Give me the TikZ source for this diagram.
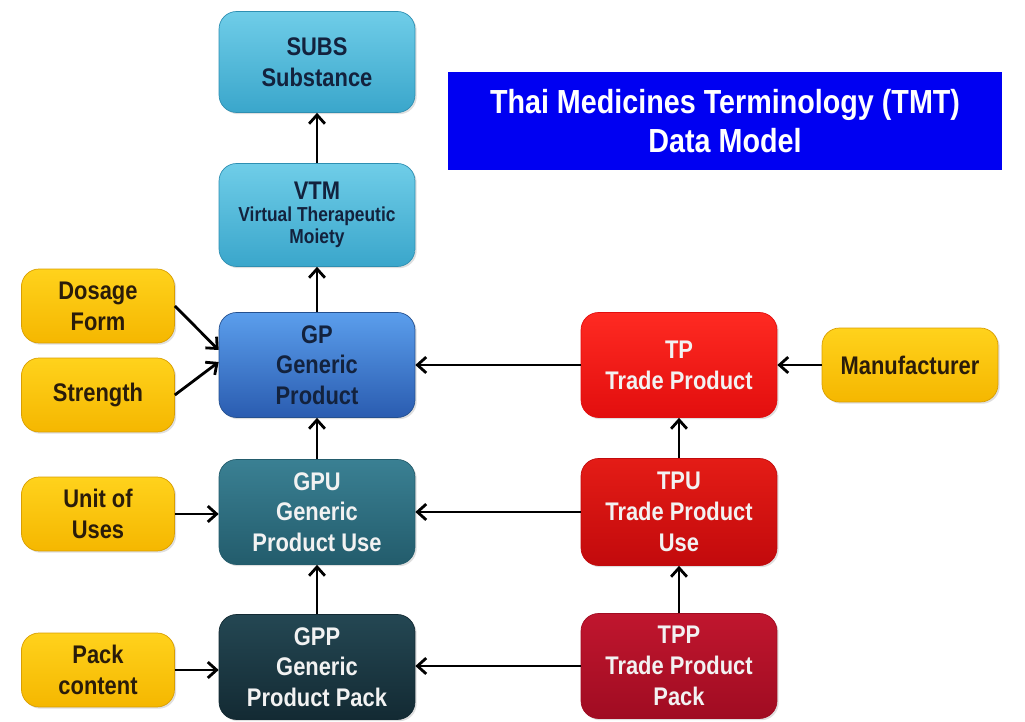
\documentclass[tikz,border=0pt]{standalone}
\usepackage{fontspec}
\usepackage{tikz}
\usetikzlibrary{arrows.meta, shadows}
\newfontfamily\condsans{Liberation Sans}[FakeStretch=0.86]
\definecolor{SkyTop}{HTML}{6FCDE8}
\definecolor{SkyBot}{HTML}{3AA6CB}
\definecolor{SkyEdge}{HTML}{2E8FB2}
\definecolor{GPTop}{HTML}{5B9EEC}
\definecolor{GPBot}{HTML}{2A5CB0}
\definecolor{GPEdge}{HTML}{24508F}
\definecolor{TealTop}{HTML}{3A8093}
\definecolor{TealBot}{HTML}{235C6C}
\definecolor{DeepTop}{HTML}{244753}
\definecolor{DeepBot}{HTML}{132A33}
\definecolor{GoldTop}{HTML}{FFD21C}
\definecolor{GoldBot}{HTML}{F5B700}
\definecolor{GoldEdge}{HTML}{D99E00}
\definecolor{TPTop}{HTML}{FF2A22}
\definecolor{TPBot}{HTML}{E20E0E}
\definecolor{TPUTop}{HTML}{E41C16}
\definecolor{TPUBot}{HTML}{C20A0C}
\definecolor{TPPTop}{HTML}{C0162E}
\definecolor{TPPBot}{HTML}{A00C22}
\definecolor{Navy}{HTML}{13223D}
\definecolor{InkBrown}{HTML}{2A1C0A}
\definecolor{Paper}{HTML}{F2F2F2}
\definecolor{TitleBlue}{HTML}{0000F2}
\tikzset{
    concept/.style={rectangle, rounded corners=10pt, minimum width=3.92cm,
        minimum height=2.1cm, inner sep=1pt, align=center,
        font=\condsans\fontsize{14.5}{17.5}\bfseries\selectfont,
        drop shadow={opacity=0.25, shadow xshift=1pt, shadow yshift=-1pt}},
    attr/.style={concept, minimum width=3.06cm, minimum height=1.48cm,
        top color=GoldTop, bottom color=GoldBot, draw=GoldEdge, text=InkBrown},
    link/.style={-{Straight Barb[length=5pt, width=9pt]}, line width=1.6pt},
}

\begin{document}
\begin{tikzpicture}[x=0.02cm, y=-0.02cm]
    \useasboundingbox (0,0) rectangle (1025,722);

    % Generic side
    \node[concept, minimum height=2.02cm, top color=SkyTop, bottom color=SkyBot,
          draw=SkyEdge, text=Navy] (subs) at (317,62) {SUBS\\Substance};
    \node[concept, minimum height=2.06cm, top color=SkyTop, bottom color=SkyBot,
          draw=SkyEdge, text=Navy,
          font=\condsans\fontsize{11.5}{12.5}\bfseries\selectfont] (vtm) at (317,215)
          {{\fontsize{14.5}{16}\selectfont VTM}\\Virtual Therapeutic\\Moiety};
    \node[concept, top color=GPTop, bottom color=GPBot, draw=GPEdge, text=Navy]
          (gp) at (317,365) {GP\\Generic\\Product};
    \node[concept, top color=TealTop, bottom color=TealBot, draw=TealBot, text=Paper]
          (gpu) at (317,512) {GPU\\Generic\\Product Use};
    \node[concept, top color=DeepTop, bottom color=DeepBot, draw=DeepBot, text=Paper]
          (gpp) at (317,667) {GPP\\Generic\\Product Pack};

    % Trade side
    \node[concept, top color=TPTop, bottom color=TPBot, draw=TPBot, text=Paper]
          (tp) at (679,365) {TP\\Trade Product};
    \node[concept, minimum height=2.14cm, top color=TPUTop, bottom color=TPUBot,
          draw=TPUBot, text=Paper] (tpu) at (679,512) {TPU\\Trade Product\\Use};
    \node[concept, top color=TPPTop, bottom color=TPPBot, draw=TPPBot, text=Paper]
          (tpp) at (679,666) {TPP\\Trade Product\\Pack};

    % Attribute boxes
    \foreach \name/\y/\label in {dose/306/{Dosage\\Form}, strength/395/Strength,
                                 unit/514/{Unit of\\Uses}, pack/670/{Pack\\content}} {
        \node[attr] (\name) at (98,\y) {\label};
    }
    \node[attr, minimum width=3.52cm] (maker) at (910,365) {Manufacturer};

    % Title
    \node[rectangle, fill=TitleBlue, minimum width=11.08cm, minimum height=1.96cm,
          text=white, align=center,
          font=\condsans\fontsize{19}{22}\bfseries\selectfont] (title) at (725,121)
          {Thai Medicines Terminology (TMT)\\Data Model};

    % Connectors
    \foreach \from/\to in {vtm/subs, gp/vtm, gpu/gp, gpp/gpu, tpu/tp, tpp/tpu} {
        \draw[link] (\from.north) -- (\to.south);
    }
    \foreach \from/\to in {tp/gp, tpu/gpu, tpp/gpp, maker/tp} {
        \draw[link] (\from.west) -- (\from.west -| \to.east);
    }
    \foreach \from/\to in {unit/gpu, pack/gpp} {
        \draw[link] (\from.east) -- (\from.east -| \to.west);
    }
    \draw[link] (dose.east) -- ([yshift=0.3cm]gp.west);
    \draw[link] (strength.east) -- ([yshift=0.06cm]gp.west);
\end{tikzpicture}
\end{document}
